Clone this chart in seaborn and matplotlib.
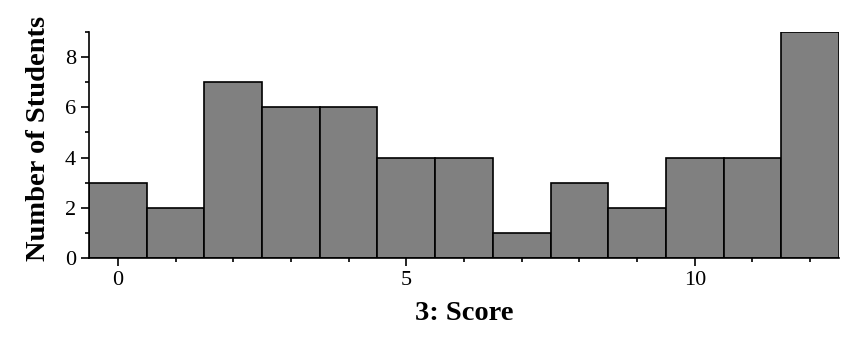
import matplotlib
matplotlib.use("Agg")
import matplotlib.pyplot as plt
import seaborn as sns
import pandas as pd
from matplotlib.ticker import MultipleLocator

scores = [0, 1, 2, 3, 4, 5, 6, 7, 8, 9, 10, 11, 12]
students = [3, 2, 7, 6, 6, 4, 4, 1, 3, 2, 4, 4, 9]
x_label = "3: Score"
y_label = "Number of Students"

df = pd.DataFrame({"score": scores, "count": students})

sns.set_style("ticks")
plt.rcParams["font.family"] = ["Liberation Serif", "DejaVu Serif"]
plt.rcParams["text.color"] = "black"
plt.rcParams["axes.labelcolor"] = "black"

fig = plt.figure(figsize=(8.54, 3.38), dpi=100)
ax = fig.add_axes([0.1042, 0.2367, 0.8782, 0.6686])

sns.histplot(data=df, x="score", weights="count", discrete=True, ax=ax,
             color="#808080", alpha=1.0, edgecolor="black", linewidth=1.2)

ax.set_xlim(-0.5, 12.5)
ax.set_ylim(0, 9)
ax.xaxis.set_major_locator(MultipleLocator(5))
ax.xaxis.set_minor_locator(MultipleLocator(1))
ax.yaxis.set_major_locator(MultipleLocator(2))
ax.yaxis.set_minor_locator(MultipleLocator(1))
ax.tick_params(axis="both", which="major", direction="out", length=6, width=1.2,
               labelsize=16, color="black", labelcolor="black")
ax.tick_params(axis="both", which="minor", direction="out", length=3, width=1.2, color="black")
ax.set_xlabel(x_label, fontsize=20.5, fontweight="bold", labelpad=8, color="black")
ax.set_ylabel(y_label, fontsize=20.5, fontweight="bold", labelpad=10, color="black")
ax.yaxis.label.set_y(0.53)

for s in ["top", "right"]:
    ax.spines[s].set_visible(False)
for s in ["left", "bottom"]:
    ax.spines[s].set_color("black")
    ax.spines[s].set_linewidth(1.2)

fig.savefig("out.png", dpi=100)
